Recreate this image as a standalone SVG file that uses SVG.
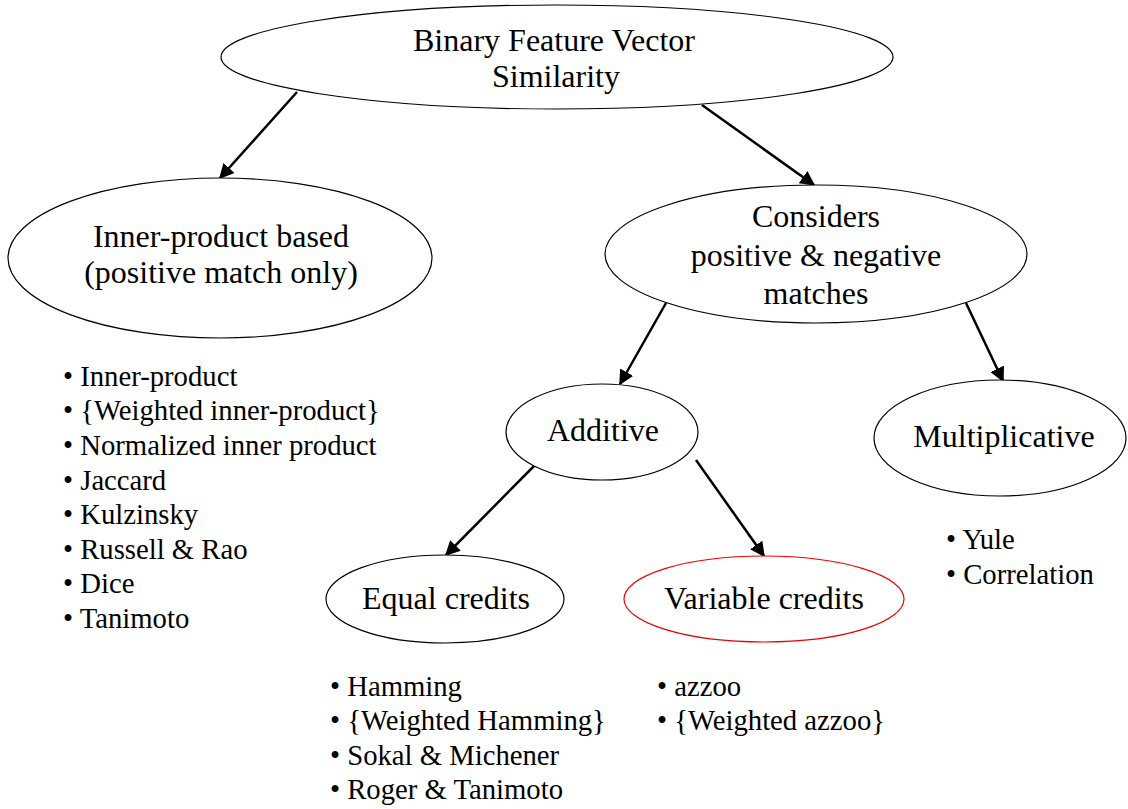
<svg xmlns="http://www.w3.org/2000/svg" width="1128" height="809" viewBox="0 0 1128 809">
<style>
.n{fill:#fff;stroke:#000;stroke-width:1.2}
.t{font-family:'Liberation Serif','Times New Roman',serif;font-size:32px;fill:#000;text-anchor:middle}
.l{font-family:'Liberation Serif','Times New Roman',serif;font-size:28.7px;fill:#000}
.c{stroke:#000;stroke-width:2.5;fill:none;marker-end:url(#ah)}
</style>
<defs>
<marker id="ah" viewBox="0 0 10 10" refX="9" refY="5" markerWidth="6" markerHeight="6" markerUnits="strokeWidth" orient="auto">
<path d="M0,0 L10,5 L0,10 z" fill="#000"/>
</marker>
</defs>
<rect width="1128" height="809" fill="#fff"/>
<g id="connectors">
<line class="c" x1="297" y1="92" x2="220" y2="178"/>
<line class="c" x1="702" y1="105" x2="814" y2="185"/>
<line class="c" x1="666" y1="303" x2="620" y2="384"/>
<line class="c" x1="966" y1="303" x2="1003" y2="381"/>
<line class="c" x1="540" y1="460" x2="446" y2="555"/>
<line class="c" x1="696" y1="460" x2="764" y2="556"/>
</g>
<g id="root">
<ellipse class="n" cx="557" cy="57" rx="336" ry="52"/>
<text class="t" x="554" y="51">Binary Feature Vector</text>
<text class="t" x="556" y="87">Similarity</text>
</g>
<g id="inner">
<ellipse class="n" cx="220" cy="258" rx="212" ry="80"/>
<text class="t" x="221" y="247">Inner-product based</text>
<text class="t" x="221" y="283">(positive match only)</text>
</g>
<g id="considers">
<ellipse class="n" cx="816" cy="254" rx="211" ry="69"/>
<text class="t" x="816" y="227">Considers</text>
<text class="t" x="816" y="266">positive &amp; negative</text>
<text class="t" x="816" y="304">matches</text>
</g>
<g id="additive">
<ellipse class="n" cx="602" cy="432" rx="96" ry="48"/>
<text class="t" x="603" y="441">Additive</text>
</g>
<g id="multiplicative">
<ellipse class="n" cx="1000" cy="438" rx="126" ry="58"/>
<text class="t" x="1004" y="447">Multiplicative</text>
</g>
<g id="equal">
<ellipse class="n" cx="445" cy="599" rx="119" ry="44"/>
<text class="t" x="446" y="609">Equal credits</text>
</g>
<g id="variable">
<ellipse class="n" cx="764" cy="599" rx="140" ry="43" style="stroke:#e00"/>
<text class="t" x="764" y="609">Variable credits</text>
</g>
<g id="inner-list">
<text class="l" x="63" y="386">• Inner-product</text>
<text class="l" x="63" y="420">• {Weighted inner-product}</text>
<text class="l" x="63" y="455">• Normalized inner product</text>
<text class="l" x="63" y="490">• Jaccard</text>
<text class="l" x="63" y="524">• Kulzinsky</text>
<text class="l" x="63" y="559">• Russell &amp; Rao</text>
<text class="l" x="63" y="593">• Dice</text>
<text class="l" x="63" y="628">• Tanimoto</text>
</g>
<g id="mult-list">
<text class="l" x="946" y="549">• Yule</text>
<text class="l" x="946" y="584">• Correlation</text>
</g>
<g id="equal-list">
<text class="l" x="330" y="696">• Hamming</text>
<text class="l" x="330" y="730">• {Weighted Hamming}</text>
<text class="l" x="330" y="765">• Sokal &amp; Michener</text>
<text class="l" x="330" y="799">• Roger &amp; Tanimoto</text>
</g>
<g id="variable-list">
<text class="l" x="657" y="696">• azzoo</text>
<text class="l" x="657" y="730">• {Weighted azzoo}</text>
</g>
</svg>
